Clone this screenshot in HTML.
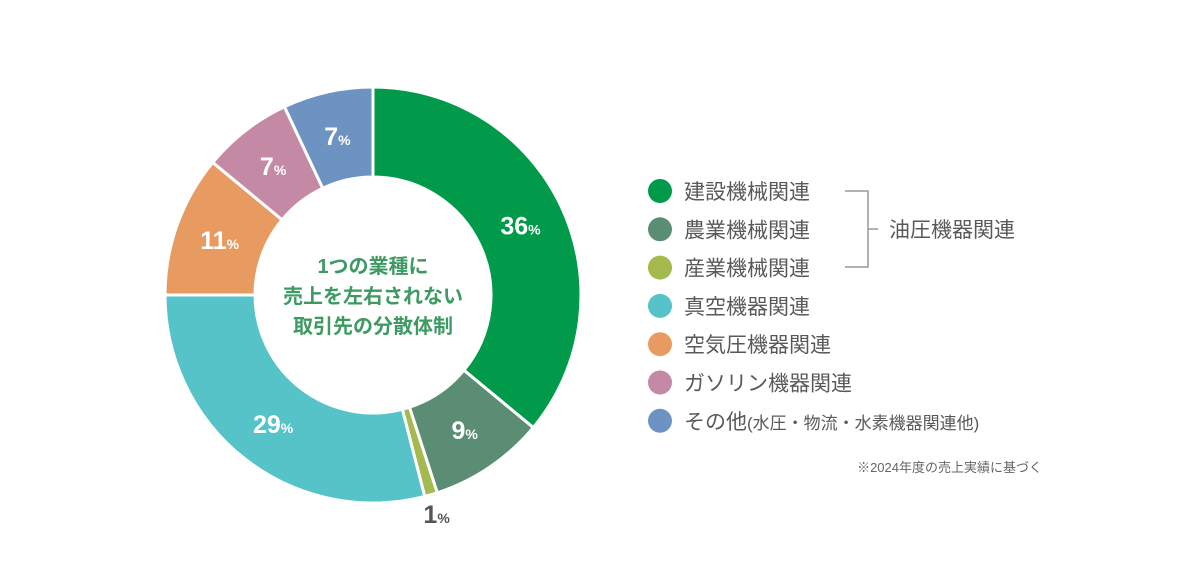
<!DOCTYPE html>
<html><head><meta charset="utf-8"><style>
body{margin:0;width:1200px;height:560px;background:#fff;overflow:hidden;font-family:"Liberation Sans","Noto Sans CJK JP",sans-serif}
</style></head><body>
<svg id="chart" width="1200" height="560" xmlns="http://www.w3.org/2000/svg">
<g id="slices"></g>
<g id="labels"></g>
<g font-family="'Liberation Sans','Noto Sans CJK JP',sans-serif" font-size="20" font-weight="bold" fill="#3d9a63" text-anchor="middle">
<text x="373" y="273">1つの業種に</text>
<text x="373" y="303">売上を左右されない</text>
<text x="373" y="333">取引先の分散体制</text>
</g>
<g id="legend" font-family="'Liberation Sans','Noto Sans CJK JP',sans-serif" font-size="21" fill="#595959"></g>
<g stroke="#999" stroke-width="1.5" fill="none">
<polyline points="845,191 868,191 868,267 845,267"/>
<line x1="868" y1="229" x2="878" y2="229"/>
</g>
<text x="889" y="237" font-size="21" fill="#595959" font-family="'Liberation Sans','Noto Sans CJK JP',sans-serif">油圧機器関連</text>
<text x="1042" y="472" text-anchor="end" font-size="13" fill="#666" font-family="'Liberation Sans','Noto Sans CJK JP',sans-serif">※2024年度の売上実績に基づく</text>
</svg>
<script>
const categories=["建設機械関連","農業機械関連","産業機械関連","真空機器関連","空気圧機器関連","ガソリン機器関連","その他"];
const values=[36,9,1,29,11,7,7];
const colors=["#009a4a","#5b8d74","#a4b94e","#55c3c8","#e89b61","#c489a4","#6d93c2"];
const legendExtra=["","","","","","","(水圧・物流・水素機器関連他)"];
const NS="http://www.w3.org/2000/svg";
const cx=373,cy=295,R=208,r=118;
const total=values.reduce((a,b)=>a+b,0);
function ang(v){return v/total*2*Math.PI-Math.PI/2;}
function pt(a,rad){return [cx+rad*Math.cos(a),cy+rad*Math.sin(a)];}
const slices=document.getElementById('slices'),labels=document.getElementById('labels');
let acc=0;
values.forEach((v,i)=>{
 const a0=ang(acc),a1=ang(acc+v);acc+=v;
 const large=(a1-a0)>Math.PI?1:0;
 const p0=pt(a0,R),p1=pt(a1,R),q1=pt(a1,r),q0=pt(a0,r);
 const p=document.createElementNS(NS,'path');
 p.setAttribute('d',`M${p0} A${R},${R} 0 ${large} 1 ${p1} L${q1} A${r},${r} 0 ${large} 0 ${q0}Z`);
 p.setAttribute('fill',colors[i]);p.setAttribute('stroke','#fff');p.setAttribute('stroke-width','3');
 
 
 slices.appendChild(p);
 const am=(a0+a1)/2;
 const small=v<3;
 const lp=pt(am,small?R+20:(R+r)/2);
 const t=document.createElementNS(NS,'text');
 t.setAttribute('x',lp[0]);t.setAttribute('y',lp[1]+9);
 t.setAttribute('text-anchor','middle');t.setAttribute('font-weight','bold');
 t.setAttribute('fill',small?'#555':'#fff');t.setAttribute('font-size','25');
 t.setAttribute('font-family',"'Liberation Sans','Noto Sans CJK JP',sans-serif");
 
 
 t.innerHTML=v+'<tspan font-size="14">%</tspan>';
 labels.appendChild(t);
});
const legend=document.getElementById('legend');
categories.forEach((c,i)=>{
 const y=191+i*38.3;
 const g=document.createElementNS(NS,'g');
 
 
 const d=document.createElementNS(NS,'circle');
 d.setAttribute('cx',660);d.setAttribute('cy',y);d.setAttribute('r',12);d.setAttribute('fill',colors[i]);
 g.appendChild(d);
 const t=document.createElementNS(NS,'text');
 t.setAttribute('x',684);t.setAttribute('y',y+8);
 t.innerHTML=c+(legendExtra[i]?'<tspan font-size="17">'+legendExtra[i]+'</tspan>':'');
 g.appendChild(t);
 legend.appendChild(g);
});
</script>
</body></html>
